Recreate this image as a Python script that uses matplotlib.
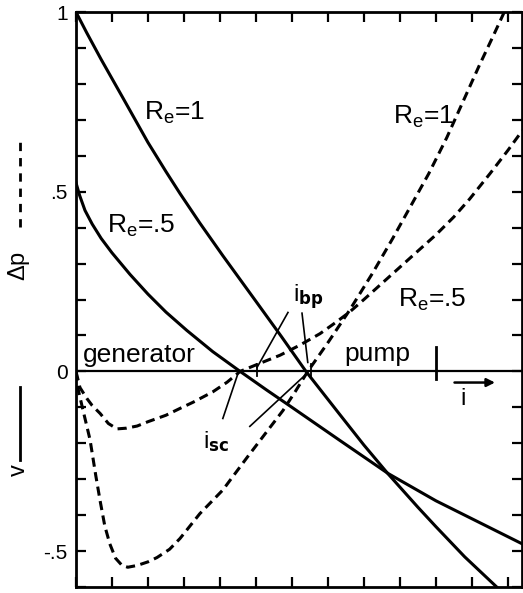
import matplotlib
matplotlib.use("Agg")
import matplotlib.pyplot as plt
from matplotlib.lines import Line2D
from matplotlib.ticker import MultipleLocator, NullLocator

plt.rcParams['font.family'] = ['Liberation Sans', 'DejaVu Sans']
plt.rcParams['mathtext.default'] = 'regular'

## --- Curve data (current i, dimensionless) ---
# Voltage v, solid lines
v_re1_i = [0, 0.03, 0.07, 0.131, 0.2, 0.25, 0.289, 0.344, 0.408, 0.5, 0.57, 0.639,
           0.733, 0.8, 0.867, 0.95, 1.0, 1.08, 1.169, 1.2]
v_re1 = [1.0, 0.942, 0.868, 0.76, 0.637, 0.556, 0.495, 0.413, 0.322, 0.195, 0.098, 0.0,
         -0.12, -0.205, -0.285, -0.378, -0.432, -0.516, -0.6, -0.632]

v_re05_i = [0, 0.01, 0.025, 0.045, 0.07, 0.1, 0.15, 0.2, 0.25, 0.308, 0.38,
            0.456, 0.53, 0.6, 0.733, 0.867, 1.0, 1.12, 1.24]
v_re05 = [0.525, 0.49, 0.448, 0.41, 0.37, 0.33, 0.27, 0.215, 0.165, 0.114, 0.055,
          0.0, -0.052, -0.1, -0.192, -0.284, -0.36, -0.42, -0.48]

# Pressure rise dp, dashed lines
dp_re1_i = [0, 0.006, 0.02, 0.039, 0.055, 0.067, 0.08, 0.094, 0.11, 0.128, 0.144,
            0.17, 0.2, 0.225, 0.26, 0.289, 0.344, 0.408, 0.475, 0.539, 0.575, 0.61,
            0.644, 0.7, 0.76, 0.825, 0.88, 0.93, 0.98, 1.03, 1.075, 1.12, 1.16,
            1.19, 1.22]
dp_re1 = [0, -0.05, -0.11, -0.19, -0.29, -0.36, -0.43, -0.48, -0.52, -0.54, -0.545,
          -0.54, -0.53, -0.518, -0.495, -0.465, -0.396, -0.33, -0.24, -0.156, -0.109,
          -0.055, 0.0, 0.08, 0.17, 0.275, 0.37, 0.46, 0.55, 0.65, 0.75, 0.85, 0.935,
          1.0, 1.07]

dp_re05_i = [0, 0.011, 0.03, 0.045, 0.067, 0.09, 0.114, 0.14, 0.17, 0.2, 0.25,
             0.289, 0.325, 0.38, 0.42, 0.456, 0.5, 0.567, 0.62, 0.678, 0.72, 0.76,
             0.8, 0.85, 0.9, 0.95, 1.0, 1.05, 1.094, 1.15, 1.2, 1.24]
dp_re05 = [0, -0.045, -0.075, -0.095, -0.117, -0.145, -0.16, -0.158, -0.152, -0.14,
           -0.122, -0.103, -0.086, -0.057, -0.03, 0.0, 0.018, 0.045, 0.072, 0.105,
           0.135, 0.165, 0.2, 0.245, 0.29, 0.335, 0.38, 0.43, 0.48, 0.55, 0.615, 0.67]

# Short-circuit and break-point currents
i_sc = [0.45, 0.636]
i_bp = [0.503, 0.653]

y_label_vals = [1.0, 0.5, 0.0, -0.5]
y_label_text = ['1', '.5', '0', '-.5']

## --- Plot settings ---
LW = 2.2
DASH = (3.0, 1.8)
FS_TICK = 15
FS_TEXT = 19
FS_RE = 19


def main():
    fig = plt.figure(figsize=(5.23, 5.93), dpi=100)
    ax = fig.add_axes([0.1453, 0.0101, 0.8533, 0.9696])
    ax.set_xlim(0, 1.24)
    ax.set_ylim(-0.6, 1.0)

    # curves
    ax.plot(v_re1_i, v_re1, color='black', lw=LW)
    ax.plot(v_re05_i, v_re05, color='black', lw=LW)
    ax.plot(dp_re1_i, dp_re1, color='black', lw=LW, dashes=DASH)
    ax.plot(dp_re05_i, dp_re05, color='black', lw=LW, dashes=DASH)

    # i axis through zero
    ax.axhline(0, color='black', lw=1.6)
    ax.plot([1.0, 1.0], [-0.02, 0.067], color='black', lw=2.0)  # unit mark
    for x in i_bp:
        ax.plot([x, x], [-0.012, 0.02], color='black', lw=1.3)

    # pointers to i_sc and i_bp
    ax.plot([0.408, i_sc[0]], [-0.131, -0.006], color='black', lw=1.2)
    ax.plot([0.483, i_sc[1]], [-0.153, -0.011], color='black', lw=1.2)
    ax.plot([0.589, i_bp[0]], [0.164, 0.011], color='black', lw=1.2)
    ax.plot([0.628, 0.644], [0.162, 0.025], color='black', lw=1.2)

    ax.text(0.603, 0.192, r'i$_{\mathbf{bp}}$', fontsize=17, va='baseline')
    ax.text(0.353, -0.214, r'i$_{\mathbf{sc}}$', fontsize=17, va='baseline')

    # current direction arrow
    ax.annotate('', xy=(1.172, -0.031), xytext=(1.044, -0.031),
                arrowprops=dict(arrowstyle='-|>', color='black', lw=1.8,
                                mutation_scale=12))
    ax.text(1.075, -0.045, 'i', fontsize=17, ha='center', va='top')

    ax.text(0.019, 0.025, 'generator', fontsize=FS_TEXT, va='baseline')
    ax.text(0.745, 0.03, 'pump', fontsize=FS_TEXT, va='baseline')

    ax.text(0.19, 0.72, r'R$_e$=1', fontsize=FS_RE, va='center')
    ax.text(0.086, 0.405, r'R$_e$=.5', fontsize=FS_RE, va='center')
    ax.text(0.88, 0.707, r'R$_e$=1', fontsize=FS_RE, va='center')
    ax.text(0.894, 0.2, r'R$_e$=.5', fontsize=FS_RE, va='center')

    # ticks on all four sides, inward
    ax.xaxis.set_major_locator(NullLocator())
    ax.xaxis.set_minor_locator(MultipleLocator(0.1))
    ax.set_yticks(y_label_vals)
    ax.set_yticklabels(y_label_text)
    ax.yaxis.set_minor_locator(MultipleLocator(0.1))
    ax.tick_params(which='both', direction='in', length=7, width=1.6,
                   top=True, right=True, bottom=True, left=True)
    ax.tick_params(axis='y', labelsize=FS_TICK, pad=6)
    for s in ax.spines.values():
        s.set_linewidth(2.0)

    # axis key: dashed = dp, solid = v
    fig.text(0.036, 1 - 266 / 593, r'$\Delta$p', rotation=90, fontsize=17,
             ha='center', va='center')
    fig.add_artist(Line2D([0.038, 0.038], [1 - 227 / 593, 1 - 140 / 593],
                          transform=fig.transFigure, color='black', lw=2.0,
                          dashes=(3, 2.5)))
    fig.text(0.036, 1 - 470 / 593, 'v', rotation=90, fontsize=17,
             ha='center', va='center')
    fig.add_artist(Line2D([0.038, 0.038], [1 - 460 / 593, 1 - 387 / 593],
                          transform=fig.transFigure, color='black', lw=2.0))

    fig.savefig('out.png', dpi=100)
    plt.close(fig)


if __name__ == "__main__":
    main()
